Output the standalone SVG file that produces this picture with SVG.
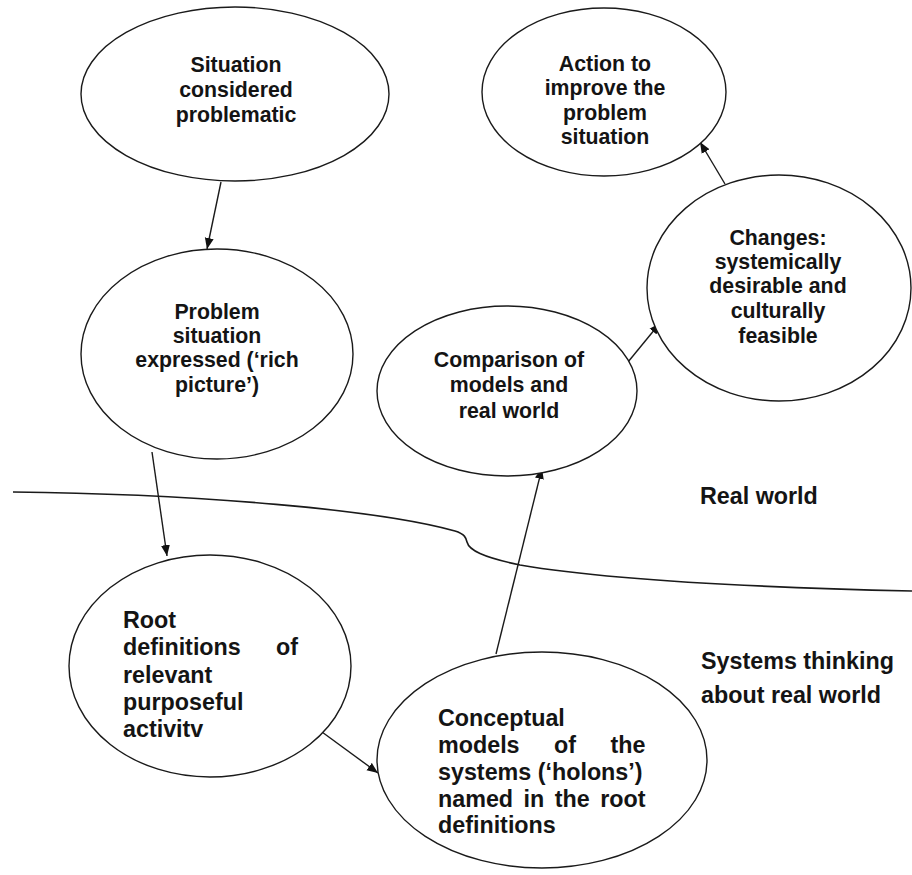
<svg xmlns="http://www.w3.org/2000/svg" width="912" height="875" viewBox="0 0 912 875">
  <style>
    .node { fill: #ffffff; stroke: #1a1a1a; stroke-width: 1.4; }
    .lbl { font-family: "Liberation Sans", Arial, sans-serif; font-weight: bold; fill: #141414; }
    .s { font-size: 21.3px; text-anchor: middle; }
    .b { font-size: 23.3px; }
    .edge { fill: none; stroke: #1a1a1a; stroke-width: 1.4; }
    .divider { fill: none; stroke: #1a1a1a; stroke-width: 1.6; }
  </style>
  <defs>
    <marker id="arrow" markerUnits="userSpaceOnUse" markerWidth="12" markerHeight="10" refX="11" refY="5" orient="auto">
      <path d="M0,0.5 L11,5 L0,9.5 Z" fill="#111111"/>
    </marker>
  </defs>

  <rect width="912" height="875" fill="#ffffff"/>

  <!-- boundary between the real world and systems thinking -->
  <path class="divider" d="M13,492 C200,494 380,510 455,531 C465,534 466,538 467,542 C469,550 482,557 520,565 C620,582 780,588 912,591"/>

  <g id="connectors">
    <line class="edge" x1="221" y1="182" x2="207" y2="249" marker-end="url(#arrow)"/>
    <line class="edge" x1="152" y1="452" x2="167" y2="556" marker-end="url(#arrow)"/>
    <line class="edge" x1="322" y1="732" x2="378" y2="773" marker-end="url(#arrow)"/>
    <line class="edge" x1="496" y1="654" x2="542" y2="468" marker-end="url(#arrow)"/>
    <line class="edge" x1="628" y1="362" x2="660" y2="323" marker-end="url(#arrow)"/>
    <line class="edge" x1="725" y1="184" x2="700" y2="142" marker-end="url(#arrow)"/>
  </g>

  <g id="situation">
    <ellipse class="node" cx="235" cy="94" rx="154" ry="87"/>
    <text class="lbl s" x="236" y="72">Situation</text>
    <text class="lbl s" x="236" y="97">considered</text>
    <text class="lbl s" x="236" y="122">problematic</text>
  </g>

  <g id="action">
    <ellipse class="node" cx="604" cy="92" rx="122" ry="84"/>
    <text class="lbl s" x="605" y="71">Action to</text>
    <text class="lbl s" x="605" y="95">improve the</text>
    <text class="lbl s" x="605" y="120">problem</text>
    <text class="lbl s" x="605" y="144">situation</text>
  </g>

  <g id="problem-expressed">
    <ellipse class="node" cx="217" cy="354" rx="136" ry="105"/>
    <text class="lbl s" x="217" y="319">Problem</text>
    <text class="lbl s" x="217" y="343">situation</text>
    <text class="lbl s" x="217" y="367">expressed (‘rich</text>
    <text class="lbl s" x="217" y="392">picture’)</text>
  </g>

  <g id="changes">
    <ellipse class="node" cx="779" cy="288" rx="132" ry="113"/>
    <text class="lbl s" x="778" y="245">Changes:</text>
    <text class="lbl s" x="778" y="269">systemically</text>
    <text class="lbl s" x="778" y="293">desirable and</text>
    <text class="lbl s" x="778" y="318">culturally</text>
    <text class="lbl s" x="778" y="343">feasible</text>
  </g>

  <g id="comparison">
    <ellipse class="node" cx="507" cy="391" rx="130" ry="85"/>
    <text class="lbl s" x="509" y="367">Comparison of</text>
    <text class="lbl s" x="509" y="392">models and</text>
    <text class="lbl s" x="509" y="418">real world</text>
  </g>

  <g id="root-definitions">
    <ellipse class="node" cx="210" cy="666" rx="141" ry="111"/>
    <text class="lbl b" x="123" y="628">Root</text>
    <text class="lbl b" x="123" y="655">definitions</text>
    <text class="lbl b" x="298" y="655" text-anchor="end">of</text>
    <text class="lbl b" x="123" y="683">relevant</text>
    <text class="lbl b" x="123" y="710">purposeful</text>
    <text class="lbl b" x="123" y="737">activitv</text>
  </g>

  <g id="conceptual-models">
    <ellipse class="node" cx="542" cy="760" rx="165" ry="108"/>
    <text class="lbl b" x="438" y="726">Conceptual</text>
    <text class="lbl b" x="438" y="753">models</text>
    <text class="lbl b" x="565" y="753" text-anchor="middle">of</text>
    <text class="lbl b" x="645.5" y="753" text-anchor="end">the</text>
    <text class="lbl b" x="438" y="780">systems (‘holons’)</text>
    <text class="lbl b" x="438" y="807" word-spacing="4">named in the root</text>
    <text class="lbl b" x="438" y="833">definitions</text>
  </g>

  <g id="region-labels">
    <text class="lbl b" x="700" y="504">Real world</text>
    <text class="lbl b" x="701" y="669">Systems thinking</text>
    <text class="lbl b" x="701" y="703">about real world</text>
  </g>
</svg>
